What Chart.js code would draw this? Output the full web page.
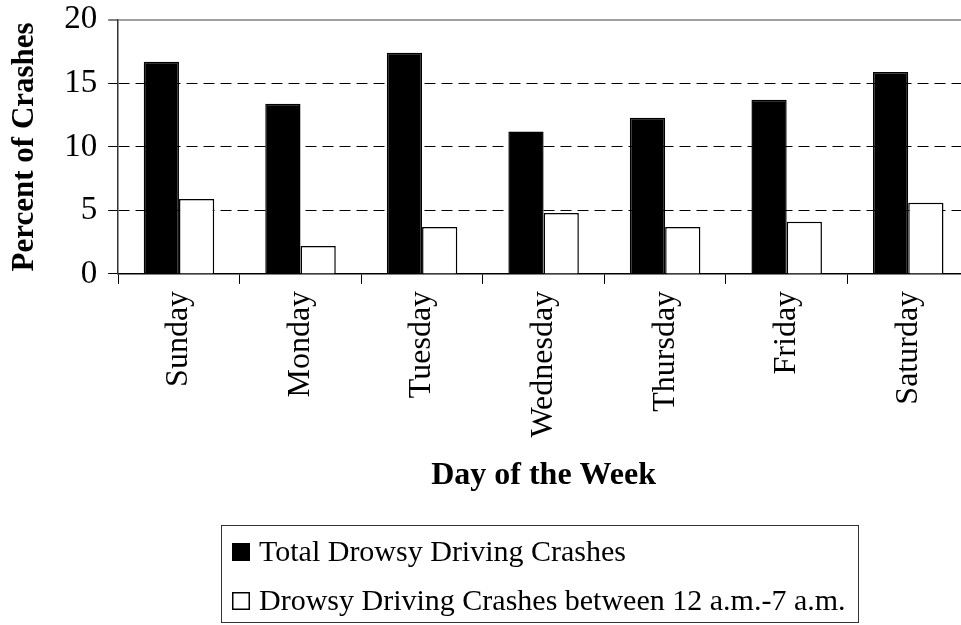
<!DOCTYPE html>
<html>
<head>
<meta charset="utf-8">
<script src="https://cdn.jsdelivr.net/npm/chart.js@4/dist/chart.umd.min.js"></script>
<style>
    html, body { margin: 0; padding: 0; background: #fff; }
    #wrap { width: 961px; height: 625px; overflow: hidden; }
    #crashChart { display: block; margin-top: -11px; }
</style>
</head>
<body>
<div id="wrap"><canvas id="crashChart" width="975" height="645"></canvas></div>
<script>
const days = ['Sunday', 'Monday', 'Tuesday', 'Wednesday', 'Thursday', 'Friday', 'Saturday'];
const totalCrashes = [16.7, 13.4, 17.4, 11.2, 12.3, 13.7, 15.9];
const nightCrashes = [5.9, 2.2, 3.7, 4.8, 3.7, 4.1, 5.6];
const seriesNames = ['Total Drowsy Driving Crashes', 'Drowsy Driving Crashes between 12 a.m.-7 a.m.'];
const yTicks = [0, 5, 10, 15, 20];

const serif = '"Liberation Serif", "Times New Roman", serif';

// boxed legend under the axis title, like the original figure
const boxLegend = {
    id: 'boxLegend',
    afterDraw(chart) {
        const ctx = chart.ctx;
        ctx.save();
        ctx.strokeStyle = '#333';
        ctx.lineWidth = 1;
        ctx.strokeRect(221.5, 536.5, 637, 97);
        ctx.font = '30px ' + serif;
        ctx.textBaseline = 'middle';
        ctx.textAlign = 'left';
        chart.data.datasets.forEach(function(ds, i) {
            const cy = 563 + i * 49;
            ctx.fillStyle = ds.backgroundColor;
            ctx.fillRect(232, cy - 9, 18, 18);
            ctx.strokeStyle = '#000';
            ctx.lineWidth = 1.5;
            ctx.strokeRect(232.75, cy - 8.25, 16.5, 16.5);
            ctx.fillStyle = '#000';
            ctx.fillText(ds.label, 259, cy + 1);
        });
        ctx.restore();
    }
};

const ctx = document.getElementById('crashChart').getContext('2d');

new Chart(ctx, {
    type: 'bar',
    data: {
        labels: days,
        datasets: [{
            label: seriesNames[0],
            data: totalCrashes,
            backgroundColor: '#000000',
            borderColor: '#000000',
            borderWidth: 1.5
        }, {
            label: seriesNames[1],
            data: nightCrashes,
            backgroundColor: '#ffffff',
            borderColor: '#000000',
            borderWidth: 1.5
        }]
    },
    options: {
        responsive: false,
        animation: false,
        devicePixelRatio: 1,
        datasets: {
            bar: { categoryPercentage: 0.58, barPercentage: 1.0 }
        },
        layout: {
            padding: { left: 2, right: 6, top: 0, bottom: 139 }
        },
        plugins: {
            legend: { display: false },
            tooltip: { enabled: false }
        },
        scales: {
            x: {
                grid: {
                    offset: true,
                    drawOnChartArea: false,
                    tickLength: 10,
                    tickColor: '#000',
                    tickWidth: 1
                },
                border: { color: '#000', width: 1.5 },
                ticks: {
                    color: '#000',
                    font: { family: serif, size: 32 },
                    minRotation: 90,
                    maxRotation: 90,
                    autoSkip: false,
                    padding: 7
                },
                title: {
                    display: true,
                    text: 'Day of the Week',
                    color: '#000',
                    font: { family: serif, size: 32, weight: 'bold' },
                    padding: { top: 12, bottom: 0 }
                }
            },
            y: {
                min: 0,
                max: 20,
                afterBuildTicks: function(scale) {
                    scale.ticks = yTicks.map(function(v) { return { value: v }; });
                },
                grid: {
                    color: function(c) {
                        if (!c.tick) return 'rgba(0,0,0,0)';
                        if (c.tick.value === 20) return '#a0a0a0';
                        if (c.tick.value === 0) return 'rgba(0,0,0,0)';
                        return '#000';
                    },
                    lineWidth: function(c) {
                        return c.tick && c.tick.value === 20 ? 2 : 1;
                    },
                    tickLength: 10,
                    tickColor: '#000',
                    tickWidth: 1
                },
                border: {
                    color: '#333',
                    width: 1.5,
                    dash: function(c) {
                        return c.tick && c.tick.value !== 20 ? [11, 6] : [];
                    }
                },
                ticks: {
                    color: '#000',
                    font: { family: serif, size: 33 },
                    padding: 11
                },
                title: {
                    display: true,
                    text: 'Percent of Crashes',
                    color: '#000',
                    font: { family: serif, size: 31, weight: 'bold' },
                    padding: { top: 4, bottom: 10 }
                }
            }
        }
    },
    plugins: [boxLegend]
});
</script>
</body>
</html>
